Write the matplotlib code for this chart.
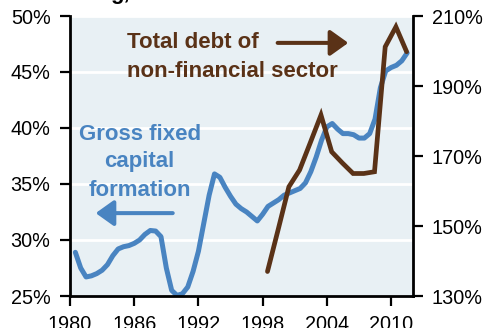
import matplotlib
matplotlib.use("Agg")
import matplotlib.pyplot as plt

plt.rcParams['font.family'] = ['Liberation Sans', 'DejaVu Sans']

# gross fixed capital formation, % of GDP, half-yearly from 1980.5
gfcf_t = [1980.5 + 0.5 * i for i in range(63)]
gfcf = [28.9, 27.5, 26.7, 26.8, 27.0, 27.3, 27.8, 28.6, 29.2, 29.4,
        29.5, 29.7, 30.0, 30.5, 30.85, 30.8, 30.3, 27.5, 25.5, 25.05,
        25.2, 25.8, 27.2, 29.0, 31.5, 34.0, 35.9, 35.6, 34.7, 33.9,
        33.2, 32.8, 32.5, 32.1, 31.7, 32.3, 33.0, 33.3, 33.6, 34.0,
        34.2, 34.4, 34.6, 35.1, 36.1, 37.4, 38.9, 40.1, 40.4, 39.9,
        39.5, 39.5, 39.4, 39.1, 39.1, 39.5, 40.8, 43.6, 45.1, 45.4,
        45.6, 46.0, 46.7]

# total debt of non-financial sector, % of GDP, annual
debt_years = list(range(1998, 2012))
debt = [137.0, 149.0, 161.2, 166.0, 173.8, 181.7, 171.2, 168.0, 165.0,
        165.0, 165.5, 201.2, 206.9, 199.8]

xticks = [1980, 1986, 1992, 1998, 2004, 2010]
left_ticks = [25, 30, 35, 40, 45, 50]
right_ticks = [130, 150, 170, 190, 210]

blue = '#4984C1'
brown = '#5A3217'
bg = '#E8F0F4'

W, H = 498, 328
fig = plt.figure(figsize=(W / 100, H / 100), dpi=100)
ax = fig.add_axes([70 / W, 32 / H, 342.5 / W, 280 / H])
ax2 = ax.twinx()

ax.set_facecolor(bg)
ax.set_axisbelow(True)
ax.yaxis.grid(True, color='white', lw=2)

ax.plot(gfcf_t, gfcf, color=blue, lw=3.6,
        solid_joinstyle='round', solid_capstyle='round')
ax2.plot([y + 0.45 for y in debt_years], debt, color=brown, lw=3.4,
         solid_joinstyle='miter', solid_capstyle='round')

ax.set_xlim(1980, 2012)
ax.set_ylim(25, 50)
ax2.set_ylim(130, 210)

ax.set_xticks(xticks)
ax.set_yticks(left_ticks)
ax.set_yticklabels([f'{v}%' for v in left_ticks])
ax2.set_yticks(right_ticks)
ax2.set_yticklabels([f'{v}%' for v in right_ticks])

for a in (ax, ax2):
    a.spines['top'].set_visible(False)
    for s in a.spines.values():
        s.set_linewidth(2)
        s.set_color('black')
    a.tick_params(direction='out', length=7, width=1.6, labelsize=14.3,
                  colors='black', pad=7)
ax.spines['right'].set_visible(False)
ax2.spines['left'].set_visible(False)
ax2.spines['bottom'].set_visible(False)

arrow = dict(arrowstyle='-|>,head_length=0.42,head_width=0.3',
             lw=2.9, mutation_scale=26, shrinkA=0, shrinkB=0)

for txt, yy in [('Total debt of', 47.6), ('non-financial sector', 45.0)]:
    ax.text(1985.28, yy, txt, color=brown, fontsize=16, fontweight='bold',
            ha='left', va='center')
ax.annotate('', xy=(2006.0, 47.6), xytext=(1999.4, 47.6),
            arrowprops=dict(arrow, color=brown))

for txt, yy in [('Gross fixed', 39.4), ('capital', 37.0), ('formation', 34.45)]:
    ax.text(1986.5, yy, txt, color=blue, fontsize=16, fontweight='bold',
            ha='center', va='center')
ax.annotate('', xy=(1982.4, 32.4), xytext=(1989.6, 32.4),
            arrowprops=dict(arrow, color=blue))

fig.text(110 / W, 1 + 1.5 / H, 'g,', fontsize=16, fontweight='bold',
         ha='left', va='baseline')

fig.savefig('out.png', dpi=100)
